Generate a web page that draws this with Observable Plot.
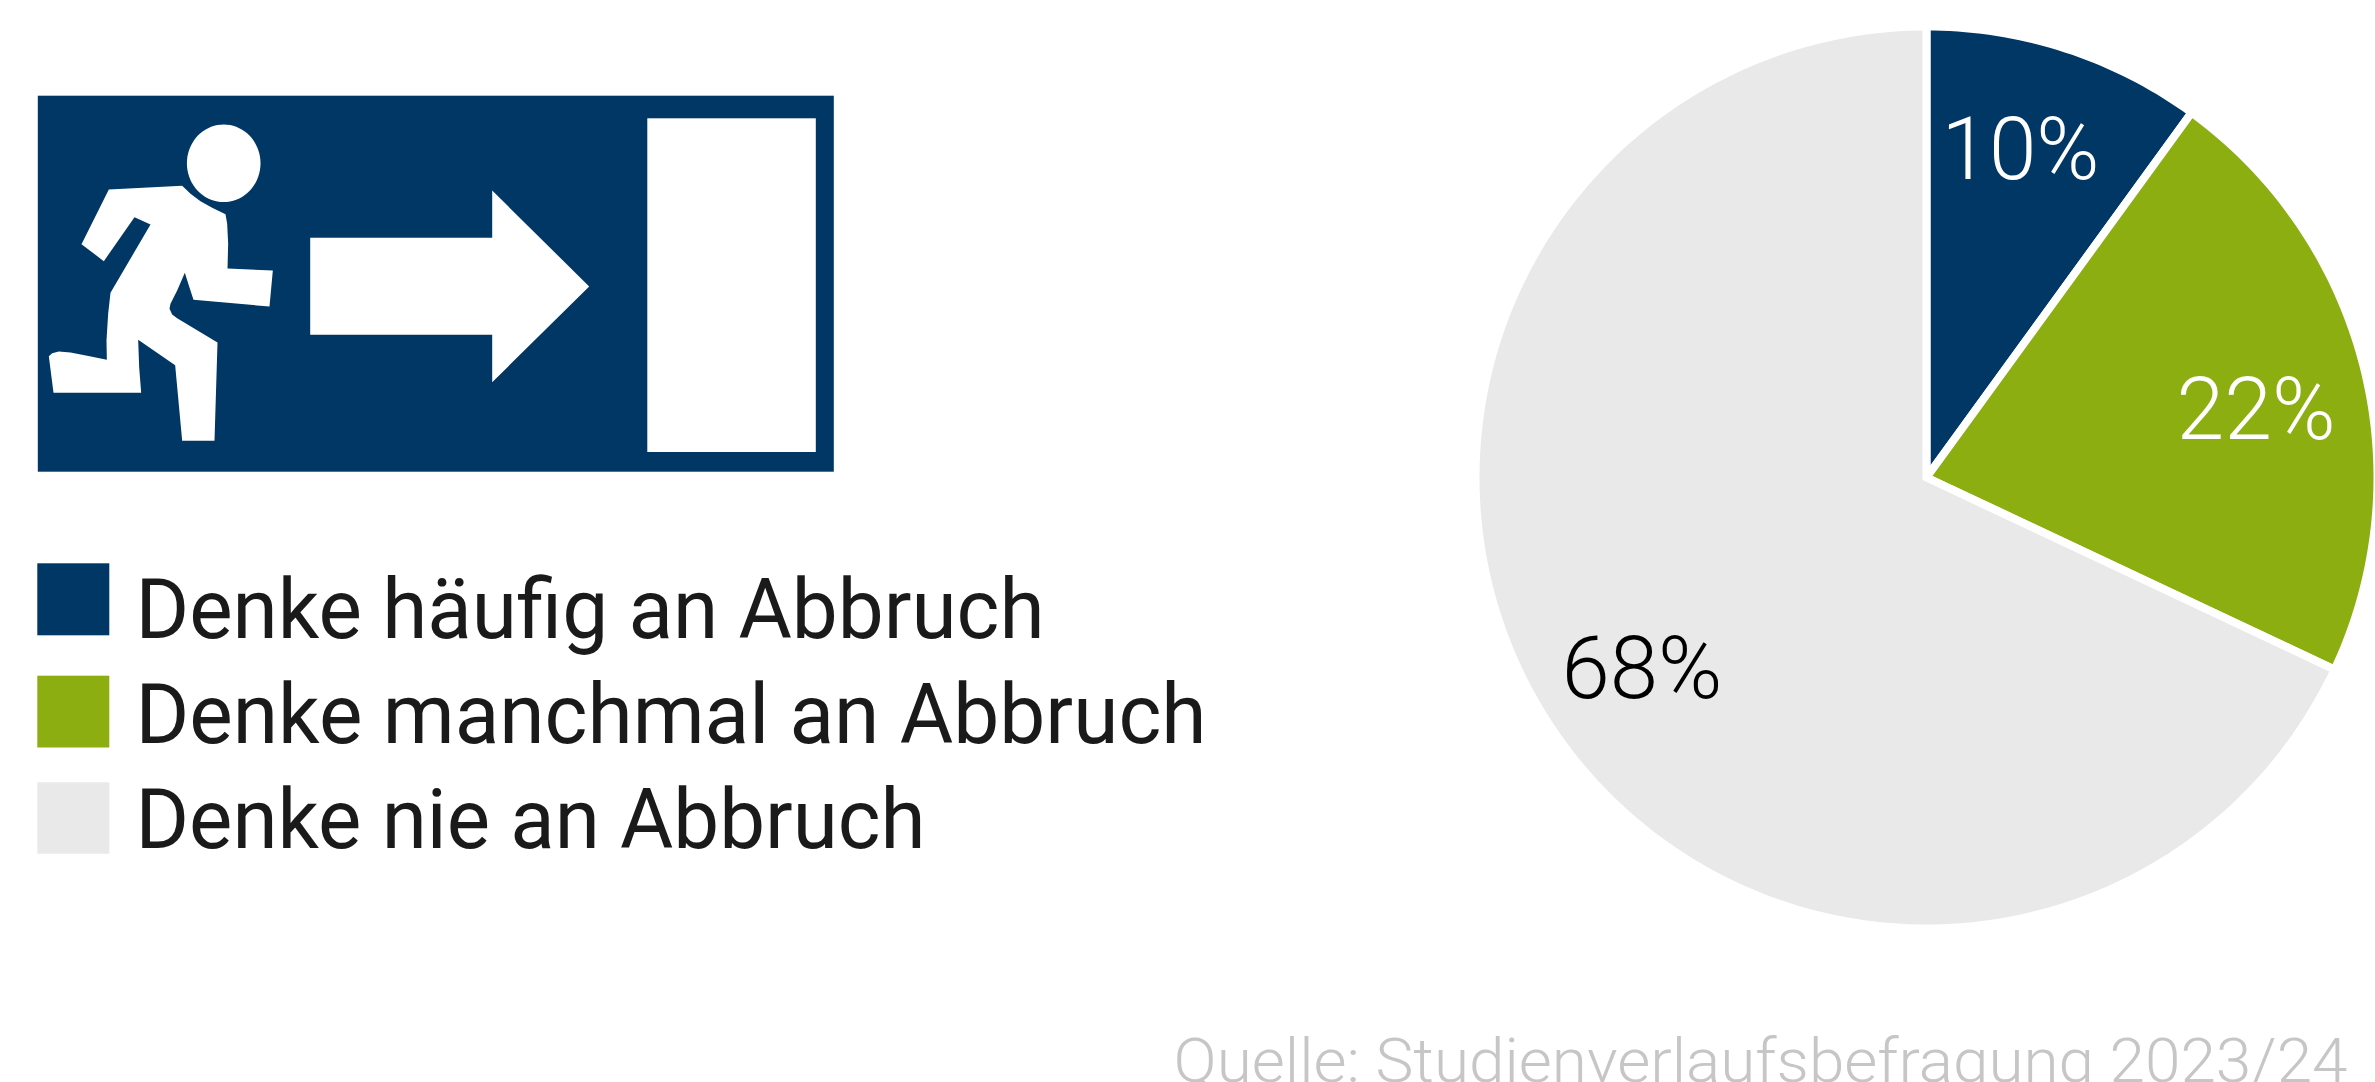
<!DOCTYPE html>
<html lang="de">
<head>
<meta charset="utf-8">
<title>Denke an Abbruch</title>
<script src="https://cdn.jsdelivr.net/npm/d3@7"></script>
<script src="https://cdn.jsdelivr.net/npm/@observablehq/plot@0.6"></script>
<style>
html,body{margin:0;padding:0;background:#fff;overflow:hidden;width:2375px;height:1082px}
</style>
</head>
<body>
<div id="chart"></div>
<script>
// ---- data ----
const categories = ["Denke häufig an Abbruch", "Denke manchmal an Abbruch", "Denke nie an Abbruch"];
const shares = [10, 22, 68];
const shareLabels = ["10%", "22%", "68%"];
const colors = ["#003764", "#8cae10", "#e9e9e9"];
const sourceNote = "Quelle: Studienverlaufsbefragung 2023/24";

// ---- layout (pixel units of the x and y scales) ----
const W = 2375, H = 1082;
const pieCx = 1926, pieCy = 477, pieR = 451, gap = 8;
const labelPos = [[1941, 178, "#fff", 158], [2176, 438.5, "#fff", 159], [1561, 697.7, "#000", 161]];
const legendY = [[563.3, 635.3, 637.5, 909], [675.7, 747.5, 742.5, 1071], [782.3, 853.7, 847.5, 790]];

// ---- pie outline, derived from the shares ----
const arcs = d3.pie().sort(null).value(d => d)(shares);
const slices = arcs.flatMap((a, i) => {
  const n = Math.ceil((a.endAngle - a.startAngle) * 180 / Math.PI);
  const pts = [{c: categories[i], x: pieCx, y: pieCy}];
  for (let k = 0; k <= n; k++) {
    const t = a.startAngle + (a.endAngle - a.startAngle) * k / n;
    pts.push({c: categories[i], x: pieCx + pieR * Math.sin(t), y: pieCy - pieR * Math.cos(t)});
  }
  pts.push(pts[0]);
  return pts;
});

// ---- exit-sign pictogram (decoration) ----
const sign = {x1: 37.8, x2: 833.8, y1: 95.7, y2: 471.7};
const door = {x1: 647.3, x2: 815.8, y1: 118.3, y2: 452};
const arrow = [[309.7,237.3],[491.7,237.3],[491.7,190],[588.7,286],[491.7,381.7],[491.7,334.3],[309.7,334.3],[309.7,237.3]];
const runnerCrop = [[235,237],[455,226],[480,250],[510,272],[545,292],[585,311],[590,340],[593,400],[591,474],[727,480],[717,588],[489,568],[475,525],[463,487],[440,540],[420,580],[417,595],[425,612],[440,623],[561,696],[552,991],[455,991],[434,764],[323,688],[326,770],[332,847],[69,847],[55,737],[65,728],[85,723],[120,726],[170,736],[229,748],[228,690],[233,610],[240,547],[360,342],[312,320],[220,452],[153,401],[235,237]];
const runner = runnerCrop.map(([x, y]) => [30 + x / 3, 110 + y / 3]);
const head = d3.range(0, 361, 5).map(a => [223.2 + 36.8 * Math.cos(a * Math.PI / 180), 162.8 + 38.8 * Math.sin(a * Math.PI / 180)]);

const whiteShape = pts => Plot.line(pts, {x: d => d[0], y: d => d[1], fill: "#fff", stroke: null, curve: "linear"});

const legendRows = categories.map((c, i) => ({c, y1: legendY[i][0], y2: legendY[i][1], base: legendY[i][2], w: legendY[i][3]}));

const plot = Plot.plot({
  width: W, height: H,
  marginTop: 0, marginRight: 0, marginBottom: 0, marginLeft: 0,
  x: {domain: [0, W], range: [0, W], axis: null},
  y: {domain: [0, H], range: [0, H], axis: null},
  color: {domain: categories, range: colors},
  style: {fontFamily: "Roboto", background: "#fff"},
  marks: [
    // pictogram
    Plot.rect([sign], {x1: "x1", x2: "x2", y1: "y1", y2: "y2", fill: colors[0]}),
    Plot.rect([door], {x1: "x1", x2: "x2", y1: "y1", y2: "y2", fill: "#fff"}),
    whiteShape(arrow),
    whiteShape(runner),
    whiteShape(head),
    // legend
    Plot.rect(legendRows, {x1: () => 37.3, x2: () => 109.3, y1: "y1", y2: "y2", fill: "c"}),
    Plot.text(legendRows, {x: () => 135, y: "base", text: "c", textAnchor: "start", lineAnchor: "bottom", fontSize: 83, fontWeight: 400, fill: "#1a1a1a"}),
    // pie
    Plot.line(slices, {x: "x", y: "y", z: "c", fill: "c", stroke: "#fff", strokeWidth: gap, curve: "linear"}),
    Plot.text(shareLabels, {x: (d, i) => labelPos[i][0], y: (d, i) => labelPos[i][1], text: d => d, textAnchor: "start", lineAnchor: "bottom", fontSize: 88, fontWeight: 300, fill: (d, i) => labelPos[i][2]}),
    // source
    Plot.text([sourceNote], {x: () => 1173, y: () => 1081, text: d => d, textAnchor: "start", lineAnchor: "bottom", fontSize: 62, fontWeight: 300, fill: "#c6c6c6"})
  ]
});
document.getElementById("chart").appendChild(plot);

// fit every label to the width it has in the reference
const fit = new Map([
  ...legendRows.map(r => [r.c, r.w]),
  ...shareLabels.map((l, i) => [l, labelPos[i][3]]),
  [sourceNote, 1174]
]);
plot.querySelectorAll("text").forEach(t => {
  const w = fit.get(t.textContent);
  if (w) { t.setAttribute("textLength", w); t.setAttribute("lengthAdjust", "spacingAndGlyphs"); }
});
</script>
</body>
</html>
